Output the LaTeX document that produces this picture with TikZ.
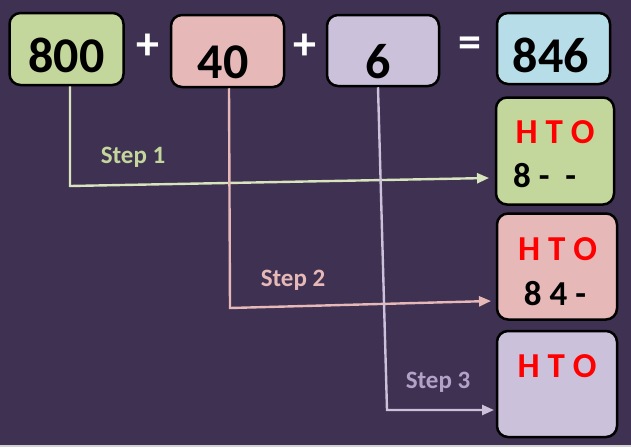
\documentclass[tikz,border=0pt]{standalone}
\usepackage{fontspec}
\setmainfont{Carlito}
\usetikzlibrary{arrows.meta,calc}
\definecolor{bgc}{HTML}{3F3151}
\definecolor{gfill}{HTML}{C3D69B}
\definecolor{pfill}{HTML}{E6B9B8}
\definecolor{vfill}{HTML}{CCC1DA}
\definecolor{bfill}{HTML}{B7DEE8}
\definecolor{gline}{HTML}{D7E4BD}
\definecolor{pline}{HTML}{E6B9B8}
\definecolor{vline}{HTML}{CCC1DA}
\definecolor{vtext}{HTML}{B3A2C7}
\tikzset{
  box/.style={draw=black, line width=2.5pt, rounded corners=11pt, inner sep=0pt},
  bigtxt/.style={font=\fontsize{50}{50}\selectfont\bfseries, anchor=base, inner sep=0pt},
  optxt/.style={font=\fontsize{46}{46}\selectfont\bfseries, text=white, inner sep=0pt},
  htotxt/.style={font=\fontsize{35}{35}\selectfont\bfseries, text=red, anchor=base, inner sep=0pt},
  valtxt/.style={font=\fontsize{35}{35}\selectfont\bfseries, anchor=base, inner sep=0pt},
  steptxt/.style={font=\fontsize{25}{25}\selectfont\bfseries, inner sep=0pt},
  conn/.style={line width=2.4pt, -{Triangle[length=12pt,width=10pt]}},
}
\begin{document}
\begin{tikzpicture}[x=1pt,y=-1pt]
\useasboundingbox (0,0) rectangle (631,447);
\fill[bgc] (0,0) rectangle (631,447);
\fill[gray!35] (0,445) rectangle (631,447);
% top boxes
\node[box, fill=gfill, minimum width=114pt, minimum height=72pt] (b800) at (66.5,49) {};
\node[box, fill=pfill, minimum width=113pt, minimum height=72pt] (b40) at (227.5,51) {};
\node[box, fill=vfill, minimum width=112pt, minimum height=71pt] (b6) at (383,50.5) {};
\node[box, fill=bfill, minimum width=113pt, minimum height=71pt] (b846) at (553.5,48.5) {};
\node[bigtxt] (t800) at (66.5,72) {800};
\node[bigtxt] (t40) at (223,78) {40};
\node[bigtxt] (t6) at (378,78) {6};
\node[bigtxt] (t846) at (551,72) {846};
\node[optxt] (plus1) at (148,47) {+};
\node[optxt] (plus2) at (305,47) {+};
\node[optxt] (eq) at (470,47) {=};
% right boxes
\node[box, fill=gfill, minimum width=118pt, minimum height=107pt] (rg) at (555,151) {};
\node[box, fill=pfill, minimum width=120pt, minimum height=106pt] (rp) at (557,266.5) {};
\node[box, fill=vfill, minimum width=120pt, minimum height=106pt] (rv) at (557,384) {};
\node[htotxt] (h1) at (555,143) {H T O};
\node[valtxt, anchor=base west] (v1) at (513,187) {8 -\ \ -};
\node[htotxt] (h2) at (557.5,260) {H T O};
\node[valtxt] (v2) at (555,305) {8 4 -};
\node[htotxt] (h3) at (557,377) {H T O};
% connectors
\coordinate (g1) at (70,186);
\coordinate (g2) at (489,178);
\coordinate (p1) at (230,308);
\coordinate (p2) at (491,301);
\coordinate (q1) at (387,410);
\coordinate (q2) at (494,410);
\draw[conn, draw=gline] (b800.south -| g1) -- (g1) -- (g2);
\draw[conn, draw=pline] ($(b40.south)+(1.5,0)$) -- (p1) -- (p2);
\draw[conn, draw=vline] ($(b6.south)+(-5,0)$) -- (q1) -- (q2);
\node[steptxt, text=gfill] (s1) at (133,157) {Step 1};
\node[steptxt, text=pline] (s2) at (293,280) {Step 2};
\node[steptxt, text=vtext] (s3) at (438,382) {Step 3};
\end{tikzpicture}
\end{document}
